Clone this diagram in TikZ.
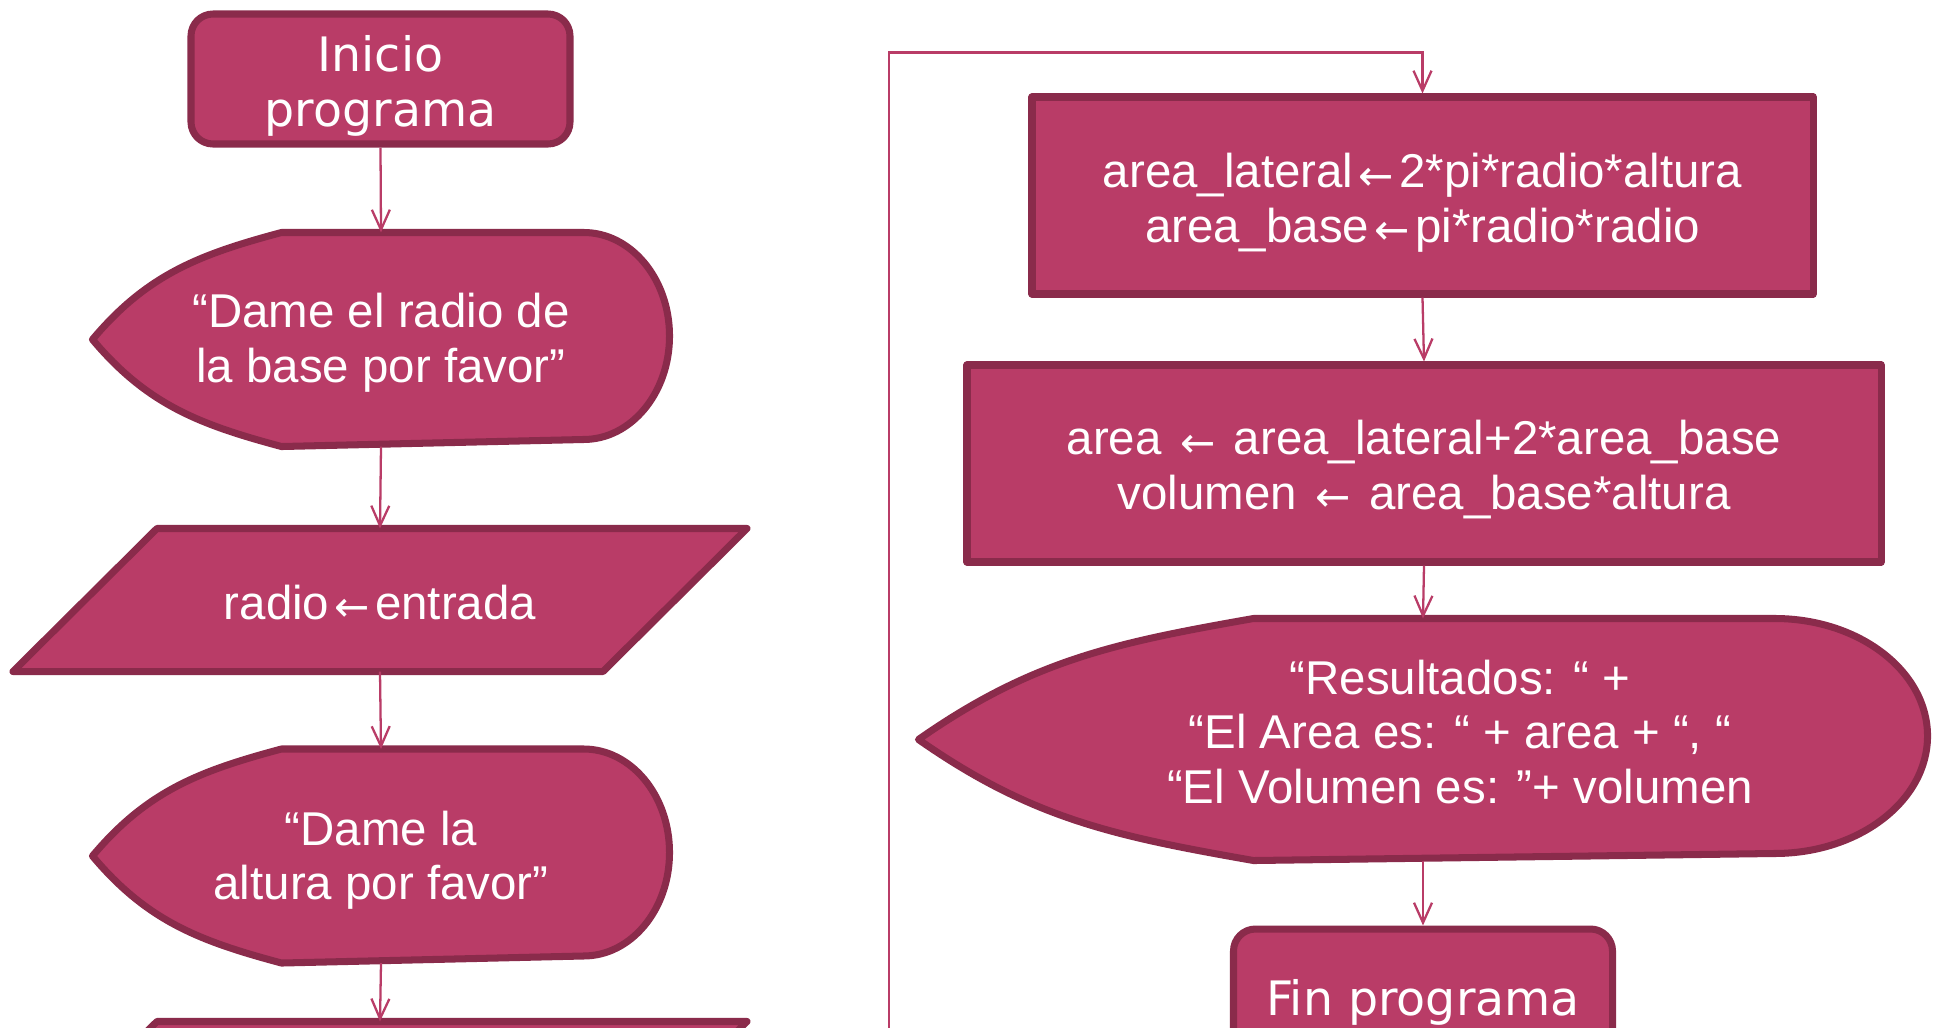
\documentclass[tikz,border=0pt]{standalone}
\usepackage{fontspec}
\setmainfont{Liberation Sans}
\newfontfamily\dvs{DejaVu Sans}
\usetikzlibrary{arrows.meta,backgrounds}
\definecolor{flowfill}{HTML}{B93C67}
\definecolor{flowedge}{HTML}{8A2B4B}
\newcommand\la{\hspace{3pt}{\dvs\fontsize{24pt}{24pt}\selectfont\raisebox{-1.5pt}{←}}\hspace{3pt}}
\newcommand\topgap[1]{\rule{0pt}{#1}}
% output shape: node, left part, arc x radius, arc y radius, out, in
\newcommand\outshp[6]{%
  \begin{scope}[on background layer]
    \draw[shp] (#1.west) to[out=#5,in=#6] ([xshift=#2]#1.north west) -- ([xshift=-#3]#1.north east)
      arc[start angle=90,end angle=-90,x radius=#3,y radius=#4]
      -- ([xshift=#2]#1.south west) to[out=-#6,in=-#5] (#1.west) -- cycle;
  \end{scope}}
% input shape: node, slant
\newcommand\inshp[2]{%
  \begin{scope}[on background layer]
    \draw[shp] ([xshift=#2]#1.north west) -- ([xshift=#2]#1.north east)
      -- ([xshift=-#2]#1.south east) -- ([xshift=-#2]#1.south west) -- cycle;
  \end{scope}}
\tikzset{
  shp/.style={fill=flowfill, draw=flowedge, line width=4pt, line join=round},
  txt/.style={text=white, align=center, font=\fontsize{27pt}{31pt}\selectfont, inner sep=0pt},
  term/.style={shp, txt, font=\dvs\fontsize{27pt}{31pt}\selectfont, rounded corners=4.4mm,
    minimum width=75.8mm, minimum height=26mm},
  proc/.style={shp, txt, minimum height=39.4mm},
  ghost/.style={txt, outer sep=2pt},
  flow/.style={draw=flowfill, line width=1.3pt, -{Straight Barb[length=4mm,width=3.6mm]}}
}
\begin{document}
\begin{tikzpicture}[x=0.2mm,y=0.2mm]
  \useasboundingbox (0,0) rectangle (1942,-1027);
  % left column
  \node[term] (ini) at (380.5,-79) {\topgap{28.2pt}Inicio\\programa};
  \node[ghost, minimum width=114mm, minimum height=41.4mm] (dame1) at (381,-339.5)
    {\topgap{23pt}“Dame el radio de\\ la base por favor”};
  \outshp{dame1}{37.8mm}{17.2mm}{20.7mm}{50}{195}
  \node[ghost, minimum width=116.6mm, minimum height=27.2mm] (leer1) at (380,-600) {\topgap{23.5pt}radio\la entrada};
  \inshp{leer1}{14.4mm}
  \node[ghost, minimum width=114mm, minimum height=41.4mm] (dame2) at (381,-856)
    {\topgap{24.2pt}“Dame la\\altura por favor”};
  \outshp{dame2}{37.8mm}{17.2mm}{20.7mm}{50}{195}
  \node[ghost, minimum width=116.6mm, minimum height=27.2mm] (leer2) at (380,-1093) {};
  \inshp{leer2}{14.4mm}
  \draw[flow] (ini.south) -- (dame1.north);
  \draw[flow] (dame1.south) -- (leer1.north);
  \draw[flow] (leer1.south) -- (dame2.north);
  \draw[flow] (dame2.south) -- (leer2.north);
  % right column
  \node[proc, minimum width=156.2mm] (calc1) at (1422.5,-195.5)
    {\topgap{27.8pt}area\_lateral\la 2*pi*radio*altura\\area\_base\la pi*radio*radio};
  \node[proc, minimum width=182.8mm] (calc2) at (1424,-463.5)
    {\topgap{26.3pt}area \la{} area\_lateral+2*area\_base\\volumen \la{} area\_base*altura};
  \node[ghost, minimum width=200.4mm, minimum height=47mm] (res) at (1423,-739.5) {};
  \outshp{res}{67mm}{30.6mm}{23.5mm}{35}{190}
  \node[txt] (restxt) at ([xshift=7.4mm,yshift=1.5mm]res.center)
    {“Resultados: “ +\\“El Area es: “ + area + “, “\\“El Volumen es: ”+ volumen};
  \node[term] (fin) at (1423,-994) {\topgap{29.5pt}Fin programa};
  \coordinate (loopin) at (889,-1040);
  \draw[flow] (loopin) |- ([yshift=8.2mm]calc1.north) -- (calc1.north);
  \draw[flow] (calc1.south) -- (calc2.north);
  \draw[flow] (calc2.south) -- (res.north);
  \draw[flow] (res.south) -- (fin.north);
\end{tikzpicture}
\end{document}
